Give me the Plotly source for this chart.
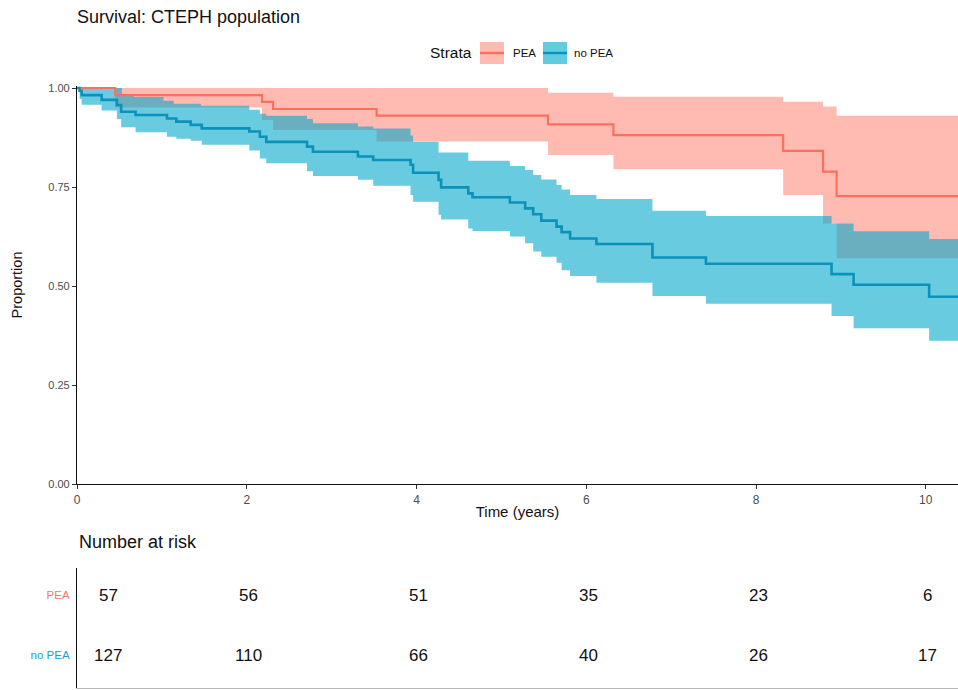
import plotly.graph_objects as go

# ---------------- data ----------------
T_END = 10.38  # right edge of the time axis (years)

# PEA stratum: Kaplan-Meier estimate and 95% CI (step functions)
pea_time = [0, 0.45, 2.18, 2.31, 3.53, 5.55, 6.32, 8.32, 8.79, 8.95]
pea_surv = [1.0, 0.982, 0.965, 0.947, 0.930, 0.908, 0.881, 0.841, 0.789, 0.727]
pea_upper_time = [0, 5.55, 6.32, 8.32, 8.79, 8.95]
pea_upper = [1.0, 0.988, 0.978, 0.965, 0.953, 0.930]
pea_lower_time = [0, 0.45, 2.18, 2.31, 3.53, 5.55, 6.32, 8.32, 8.79, 8.95]
pea_lower = [1.0, 0.951, 0.919, 0.894, 0.865, 0.831, 0.795, 0.730, 0.658, 0.570]

# no PEA stratum
nopea_time = [0, 0.03, 0.055, 0.29, 0.47, 0.52, 0.69, 1.06, 1.17, 1.34,
              1.47, 2.03, 2.155, 2.23, 2.71, 2.78, 3.31, 3.49, 3.93, 3.96,
              4.26, 4.29, 4.61, 4.66, 5.10, 5.28, 5.375, 5.47, 5.65, 5.71,
              5.81, 6.12, 6.78, 7.41, 8.89, 9.15, 10.04]
nopea_surv = [1.0, 0.993, 0.982, 0.970, 0.957, 0.940, 0.932, 0.923, 0.915, 0.907,
              0.898, 0.890, 0.877, 0.864, 0.852, 0.839, 0.827, 0.818, 0.806, 0.786,
              0.768, 0.749, 0.734, 0.724, 0.711, 0.696, 0.681, 0.665, 0.650, 0.636,
              0.620, 0.606, 0.572, 0.556, 0.530, 0.503, 0.473]
nopea_upper_time = [0, 0.53, 0.67, 1.02, 1.14, 1.46, 2.03, 2.155, 2.23, 2.71,
                    2.78, 3.31, 3.49, 3.93, 3.96, 4.26, 4.61, 5.10, 5.28, 5.375,
                    5.47, 5.65, 5.71, 5.81, 6.12, 6.78, 7.41, 8.89, 9.15, 10.04]
nopea_upper = [1.0, 0.985, 0.977, 0.968, 0.960, 0.955, 0.945, 0.935, 0.930, 0.922,
               0.911, 0.903, 0.898, 0.880, 0.864, 0.837, 0.816, 0.803, 0.793, 0.780,
               0.769, 0.755, 0.744, 0.730, 0.720, 0.690, 0.677, 0.658, 0.638, 0.619]
nopea_lower_time = nopea_time
nopea_lower = [1.0, 0.972, 0.958, 0.943, 0.922, 0.901, 0.888, 0.877, 0.872, 0.867,
               0.857, 0.842, 0.822, 0.810, 0.790, 0.778, 0.768, 0.753, 0.730, 0.713,
               0.680, 0.668, 0.645, 0.639, 0.625, 0.608, 0.587, 0.574, 0.559, 0.540,
               0.525, 0.508, 0.475, 0.455, 0.424, 0.393, 0.362]

# Number-at-risk table
risk_times = [0, 2, 4, 6, 8, 10]
risk_pea = [57, 56, 51, 35, 23, 6]
risk_nopea = [127, 110, 66, 40, 26, 17]

strata = ["PEA", "no PEA"]
x_ticks = [0, 2, 4, 6, 8, 10]
y_ticks = [0, 0.25, 0.5, 0.75, 1.0]
y_ticklabels = ["0.00", "0.25", "0.50", "0.75", "1.00"]

# ---------------- styling ----------------
W, H = 958, 690
FONT = "Liberation Sans, Arial, sans-serif"
PEA_LINE = "#F9705F"
NOPEA_LINE = "#0A92BB"
PEA_FILL = "rgba(255,119,101,0.5)"
NOPEA_FILL = "rgba(0,167,203,0.59)"
PEA_KEY = "#FFBBB2"
NOPEA_KEY = "#62CBE0"
PEA_LABEL = "#F8766D"
NOPEA_LABEL = "#12A4CF"


def px_x(p):
    return p / W


def px_y(p):
    return (H - p) / H


def extend(t, v):
    return list(t) + [T_END], list(v) + [v[-1]]


fig = go.Figure()


def add_band(tu, vu, tl, vl, fill):
    xu, yu = extend(tu, vu)
    xl, yl = extend(tl, vl)
    fig.add_trace(go.Scatter(x=xu, y=yu, mode="lines", line=dict(width=0, shape="hv"),
                             showlegend=False, hoverinfo="skip", xaxis="x", yaxis="y"))
    fig.add_trace(go.Scatter(x=xl, y=yl, mode="lines", line=dict(width=0, shape="hv"),
                             fill="tonexty", fillcolor=fill, showlegend=False,
                             hoverinfo="skip", xaxis="x", yaxis="y"))


add_band(pea_upper_time, pea_upper, pea_lower_time, pea_lower, PEA_FILL)
add_band(nopea_upper_time, nopea_upper, nopea_lower_time, nopea_lower, NOPEA_FILL)

for t, s, c, w, name in [(pea_time, pea_surv, PEA_LINE, 2.2, "PEA"),
                         (nopea_time, nopea_surv, NOPEA_LINE, 2.6, "no PEA")]:
    xx, yy = extend(t, s)
    fig.add_trace(go.Scatter(x=xx, y=yy, mode="lines", name=name,
                             line=dict(color=c, width=w, shape="hv"),
                             showlegend=False, xaxis="x", yaxis="y"))

# invisible trace so the table axes exist
fig.add_trace(go.Scatter(x=[0], y=[0], mode="markers", marker=dict(opacity=0),
                         showlegend=False, hoverinfo="skip", xaxis="x2", yaxis="y2"))

annotations = []
# risk table numbers
for row, counts in [(1, risk_pea), (0, risk_nopea)]:
    for i, (t, n) in enumerate(zip(risk_times, counts)):
        annotations.append(dict(x=t, y=row, xref="x2", yref="y2", text=str(n),
                                showarrow=False, xanchor="center", yanchor="middle",
                                xshift=31 if i == 0 else 2,
                                font=dict(size=17, color="#111111", family=FONT)))

annotations.append(dict(x=px_x(77), y=px_y(542), xref="paper", yref="paper",
                        text="Number at risk", showarrow=False, xanchor="left",
                        yanchor="middle", font=dict(size=18, color="#111111", family=FONT)))

# legend (ggplot-style, drawn manually)
annotations.append(dict(x=px_x(474), y=px_y(53), xref="paper", yref="paper", text="Strata",
                        showarrow=False, xanchor="right", yanchor="middle",
                        font=dict(size=15.5, color="#111111", family=FONT)))
annotations.append(dict(x=px_x(511), y=px_y(53), xref="paper", yref="paper", text=strata[0],
                        showarrow=False, xanchor="left", yanchor="middle",
                        font=dict(size=11.5, color="#111111", family=FONT)))
annotations.append(dict(x=px_x(572), y=px_y(53), xref="paper", yref="paper", text=strata[1],
                        showarrow=False, xanchor="left", yanchor="middle",
                        font=dict(size=11.5, color="#111111", family=FONT)))

shapes = []
for x0, x1, fc, lc in [(480, 504, PEA_KEY, PEA_LINE), (543, 567, NOPEA_KEY, NOPEA_LINE)]:
    shapes.append(dict(type="rect", xref="paper", yref="paper",
                       x0=px_x(x0), x1=px_x(x1), y0=px_y(64), y1=px_y(42),
                       fillcolor=fc, line=dict(width=0)))
    shapes.append(dict(type="line", xref="paper", yref="paper",
                       x0=px_x(x0), x1=px_x(x1), y0=px_y(53), y1=px_y(53),
                       line=dict(color=lc, width=2.4)))

xdom = [px_x(77), 1.0]
fig.update_layout(
    width=W, height=H, autosize=False,
    margin=dict(l=0, r=0, t=0, b=0, pad=0, autoexpand=False),
    paper_bgcolor="white", plot_bgcolor="white",
    font=dict(family=FONT, color="#111111"),
    title=dict(text="Survival: CTEPH population", x=px_x(77), xanchor="left",
               y=px_y(17), yanchor="middle", xref="paper", yref="paper",
               font=dict(size=18, color="#111111", family=FONT)),
    showlegend=False,
    xaxis=dict(domain=xdom, anchor="y", range=[0, T_END], tickvals=x_ticks,
               ticks="outside", ticklen=4, tickcolor="#333333", tickwidth=1,
               showline=True, linecolor="#111111", linewidth=1.2,
               showgrid=False, zeroline=False, automargin=False,
               tickfont=dict(size=12, color="#4D4D4D"),
               title=dict(text="Time (years)", font=dict(size=15, color="#111111"),
                          standoff=0)),
    yaxis=dict(domain=[px_y(484), px_y(86)], anchor="x", range=[0, (484 - 86) / 396],
               tickvals=y_ticks, ticktext=y_ticklabels,
               ticks="outside", ticklen=4, tickcolor="#333333", tickwidth=1,
               showline=True, linecolor="#111111", linewidth=1.2,
               showgrid=False, zeroline=False, automargin=False,
               tickfont=dict(size=11, color="#4D4D4D"),
               title=dict(text="Proportion", font=dict(size=14.5, color="#111111"),
                          standoff=22)),
    xaxis2=dict(domain=xdom, anchor="y2", range=[0, T_END], showticklabels=False,
                ticks="", showline=True, linecolor="#BBBBBB", linewidth=1,
                showgrid=False, zeroline=False, automargin=False),
    yaxis2=dict(domain=[px_y(688), px_y(568)], anchor="x2", range=[-0.55, 1.45],
                tickvals=[1, 0],
                ticktext=['<span style="color:%s">%s</span>' % (PEA_LABEL, strata[0]),
                          '<span style="color:%s">%s</span>' % (NOPEA_LABEL, strata[1])],
                ticks="outside", ticklen=4, tickcolor="rgba(0,0,0,0)",
                showline=True, linecolor="#111111", linewidth=1.2,
                showgrid=False, zeroline=False, automargin=False,
                tickfont=dict(size=11.5)),
    annotations=annotations,
    shapes=shapes,
)

fig.write_html("out.html",
               config={"displayModeBar": False},
               post_script="document.body.style.margin='0px';"
                           "document.body.style.padding='0px';"
                           "document.body.style.overflow='hidden';")
